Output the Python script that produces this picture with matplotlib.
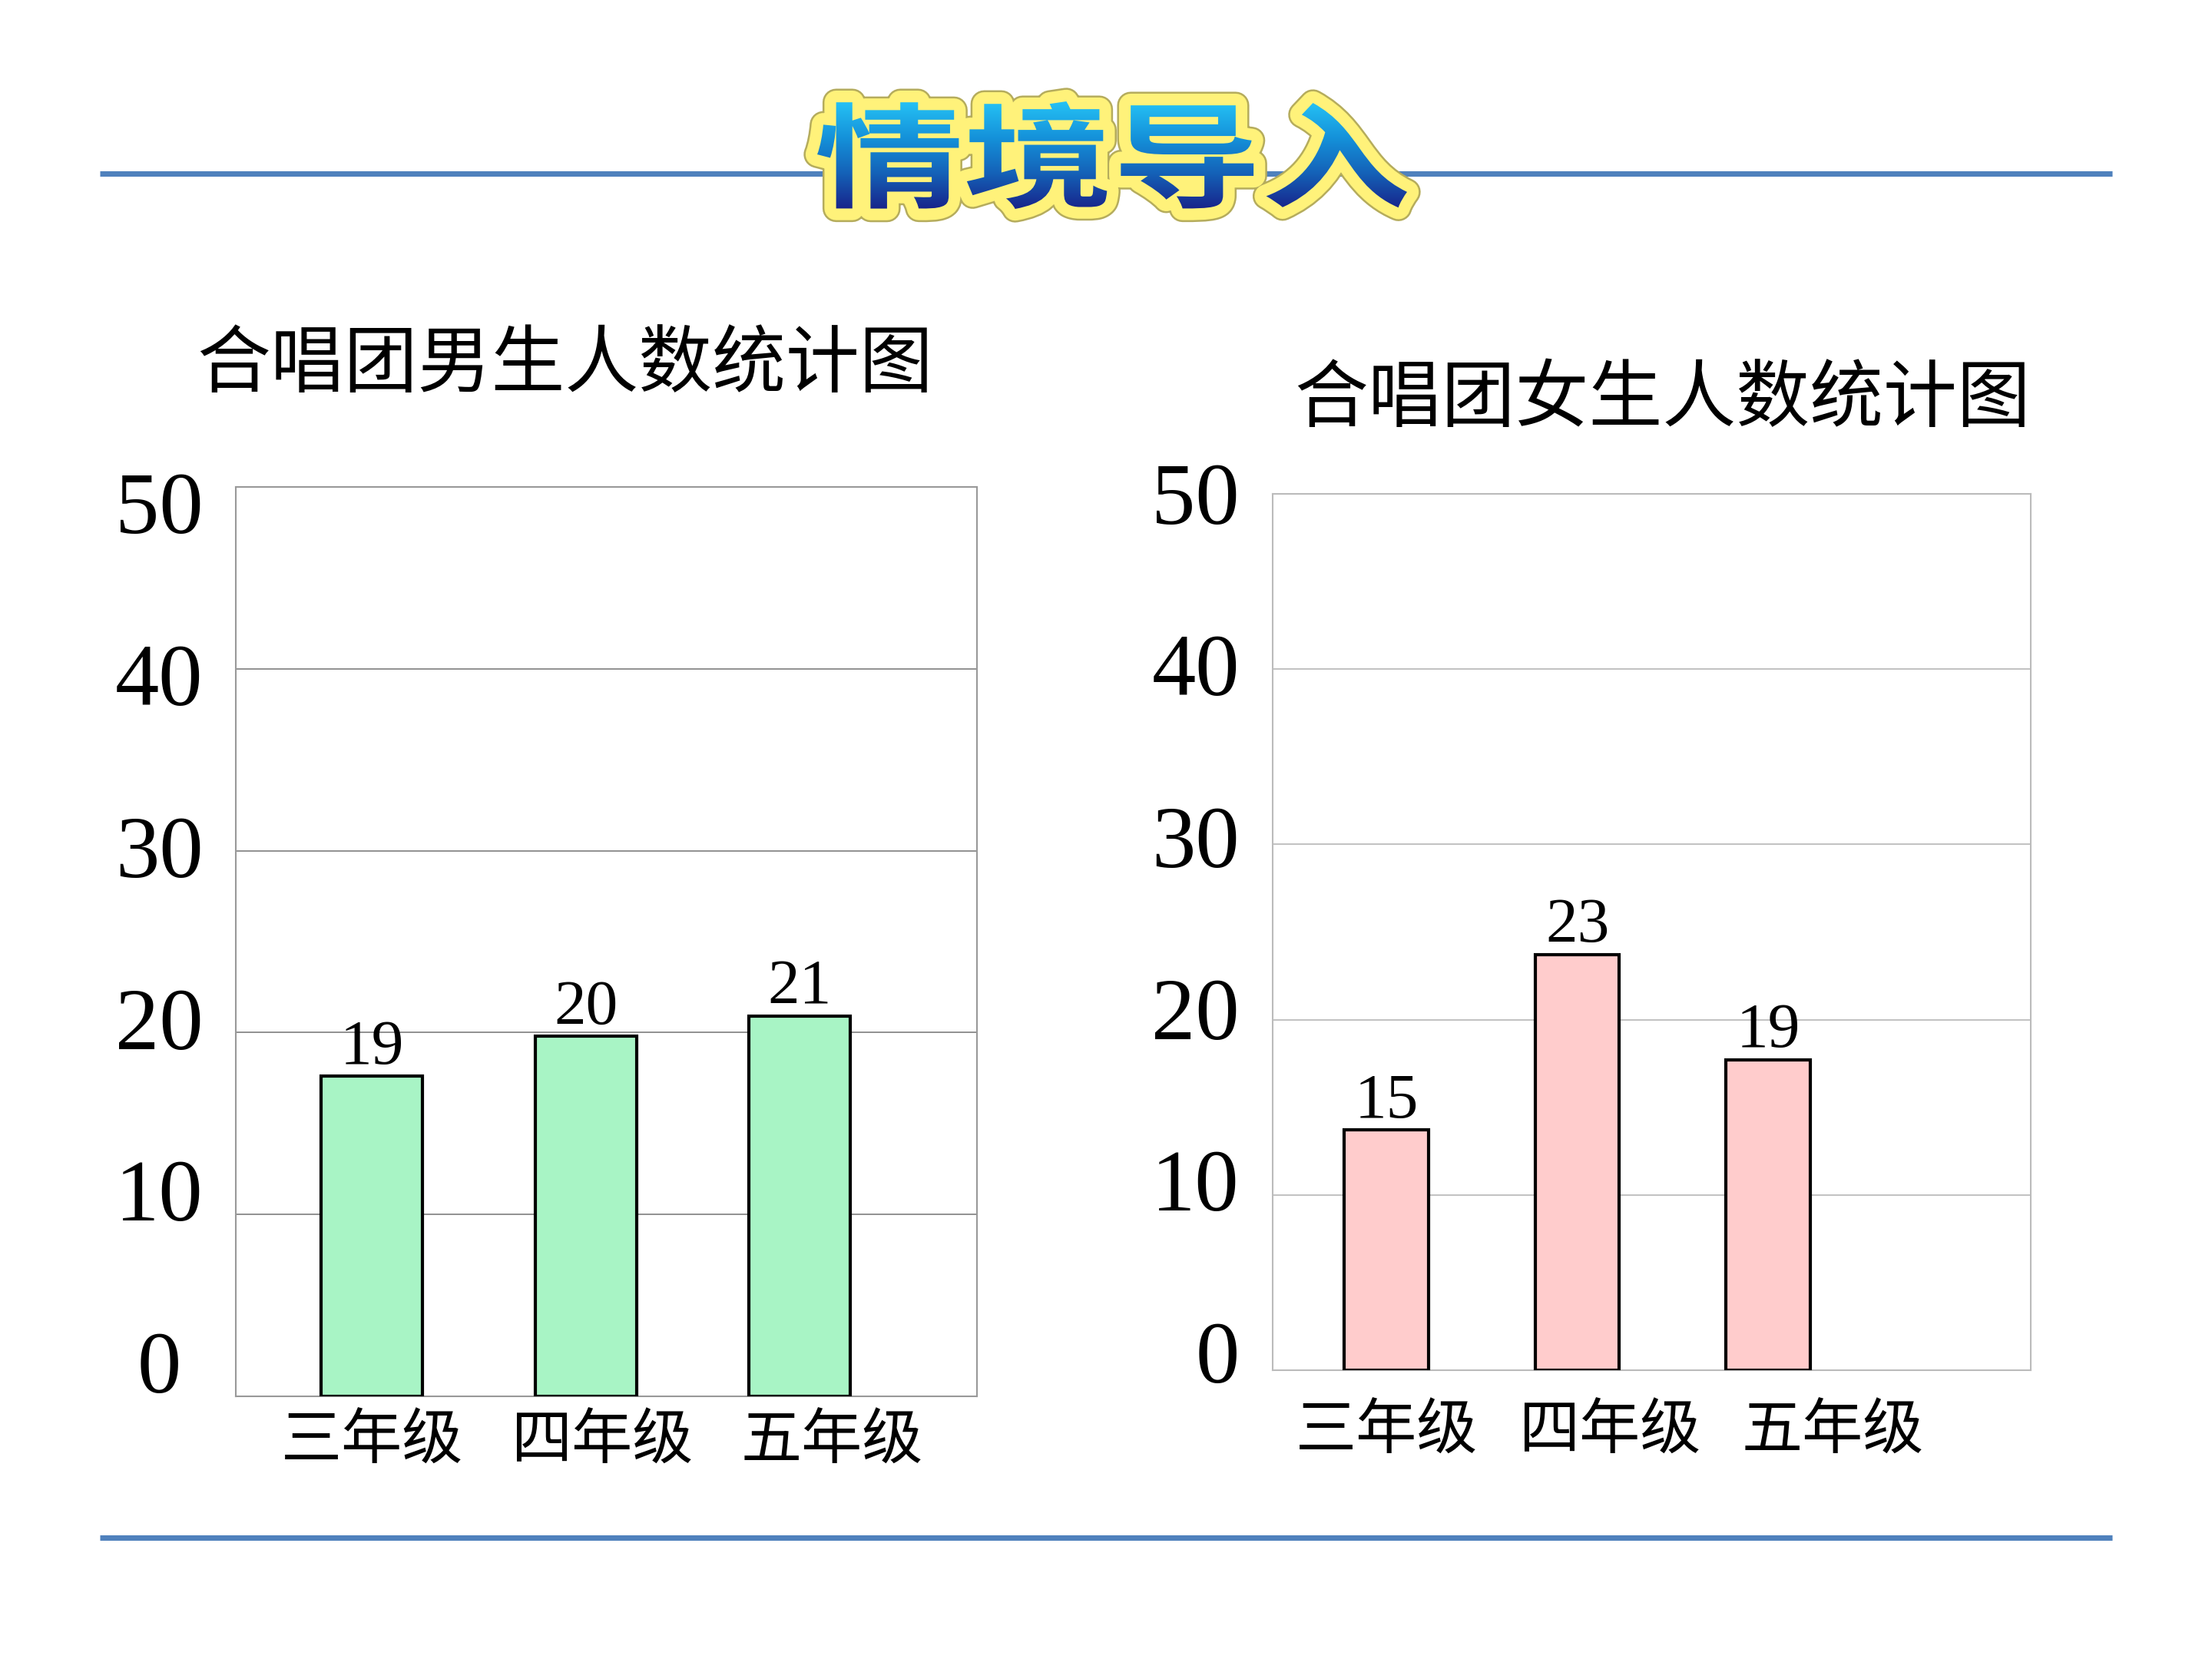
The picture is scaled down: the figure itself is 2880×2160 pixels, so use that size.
import matplotlib
matplotlib.use('Agg')
import matplotlib.pyplot as plt
import numpy as np
from matplotlib.patches import PathPatch
from matplotlib.textpath import TextPath
from matplotlib.font_manager import FontProperties
from matplotlib.transforms import Affine2D
from matplotlib.colors import LinearSegmentedColormap

# ─── Data ─────────────────────────────────────────────────────────────────────
grades = ['三年级', '四年级', '五年级']
boys_count = [19, 20, 21]
girls_count = [15, 23, 19]
# bar heights as drawn on the slide (they don't quite match the printed counts)
boys_bar = [17.6, 19.8, 20.9]
girls_bar = [13.7, 23.7, 17.7]
y_ticks = [0, 10, 20, 30, 40, 50]
titles = ['合唱团男生人数统计图', '合唱团女生人数统计图']
header = '情境导入'

W, H = 2880, 2160
SERIF = 'Liberation Serif'
CJK = 'Noto Sans CJK SC'
BLUE_LINE = '#4F81BD'


def px_rect(x0, y0, x1, y1):
    # pixel box (top-left origin) -> figure fraction rect
    return [x0 / W, 1 - y1 / H, (x1 - x0) / W, (y1 - y0) / H]


def draw_chart(ax, heights, counts, color, grid_col, frame_col, xlim, bw,
               lab_step, lab_y, tick_x, tick_ha, tick_base, tick_scale):
    x = np.arange(len(heights))
    ax.set_xlim(*xlim)
    ax.set_ylim(0, 50)
    ax.set_xticks([])
    ax.set_yticks([])
    for s in ax.spines.values():
        s.set_color(frame_col)
        s.set_linewidth(0.5)
    for v in y_ticks[1:-1]:
        ax.axhline(v, color=grid_col, lw=0.45, zorder=1)
    ax.bar(x, heights, width=bw, color=color, edgecolor='black',
           linewidth=1.0, zorder=3)
    for xi, h, c in zip(x, heights, counts):
        ax.annotate(str(c), (xi, h), xytext=(0, 4), textcoords='offset points',
                    ha='center', va='baseline', fontsize=20, family=SERIF)
    # value axis labels (hand placed on the slide, slightly off the grid)
    for v in y_ticks:
        ax.text(tick_x, tick_base + tick_scale * v, str(v),
                transform=ax.get_yaxis_transform(), ha=tick_ha, va='baseline',
                fontsize=27.5, family=SERIF, clip_on=False)
    for i, g in enumerate(grades):
        ax.text(i * lab_step, lab_y, g, transform=ax.get_xaxis_transform(),
                ha='center', va='center', fontsize=19, family=CJK, clip_on=False)


fig = plt.figure(figsize=(9.6, 7.2), dpi=300)
fig.patch.set_facecolor('white')

# ─── Left: boys ───────────────────────────────────────────────────────────────
ax1 = fig.add_axes(px_rect(307, 634, 1272, 1818))
draw_chart(ax1, boys_bar, boys_count, '#A8F4C5', '#8C8C8C', '#999999',
           (-0.636, 2.829), 0.474, 1.075, -0.05,
           -0.1036, 'center', 0.2, 0.945)
fig.text(736 / W, 1 - 475 / H, titles[0], ha='center', va='center',
         fontsize=23, family=CJK)

# ─── Right: girls ─────────────────────────────────────────────────────────────
ax2 = fig.add_axes(px_rect(1657, 643, 2644, 1784))
draw_chart(ax2, girls_bar, girls_count, '#FFCCCC', '#BFBFBF', '#BBBBBB',
           (-0.596, 3.376), 0.44, 1.17, -0.070,
           -0.0436, 'right', -0.7, 0.98)
fig.text(2165 / W, 1 - 520 / H, titles[1], ha='center', va='center',
         fontsize=23, family=CJK)

# ─── Slide decoration: rules + header ─────────────────────────────────────────
ov = fig.add_axes([0, 0, 1, 1], zorder=5)
ov.axis('off')
ov.plot([130, 2750], [H - 226, H - 226], color=BLUE_LINE, lw=1.7,
        solid_capstyle='butt', zorder=1)
ov.plot([130, 2750], [H - 2002, H - 2002], color=BLUE_LINE, lw=1.7,
        solid_capstyle='butt', zorder=1)

tp = TextPath((0, 0), header, size=100,
              prop=FontProperties(family=CJK, weight='bold'))
bb = tp.get_extents()
gx0, gx1, gy0, gy1 = 1064, 1832, 132, 272   # glyph box, pixel coords
tr = (Affine2D().translate(-bb.x0, -bb.y0)
      .scale((gx1 - gx0) / bb.width, (gy1 - gy0) / bb.height)
      .translate(gx0, H - gy1))
path = tr.transform_path(tp)

ov.add_patch(PathPatch(path, facecolor='none', edgecolor='#B5AC5C', lw=8.5,
                       joinstyle='round', zorder=2))
outline = PathPatch(path, facecolor='none', edgecolor='#FFF27A', lw=7.3,
                    joinstyle='round', zorder=3)
ov.add_patch(outline)
cmap = LinearSegmentedColormap.from_list(
    'hdr', ['#25C2F5', '#1592DA', '#1462B8', '#18248A'])
grad = np.linspace(0, 1, 256).reshape(-1, 1)
pb = path.get_extents()
im = ov.imshow(grad, extent=[pb.x0, pb.x1, pb.y0, pb.y1], cmap=cmap,
               aspect='auto', origin='upper', zorder=4)
im.set_clip_path(outline)

ov.set_xlim(0, W)
ov.set_ylim(0, H)

fig.savefig('out.png', dpi=300, facecolor='white')
